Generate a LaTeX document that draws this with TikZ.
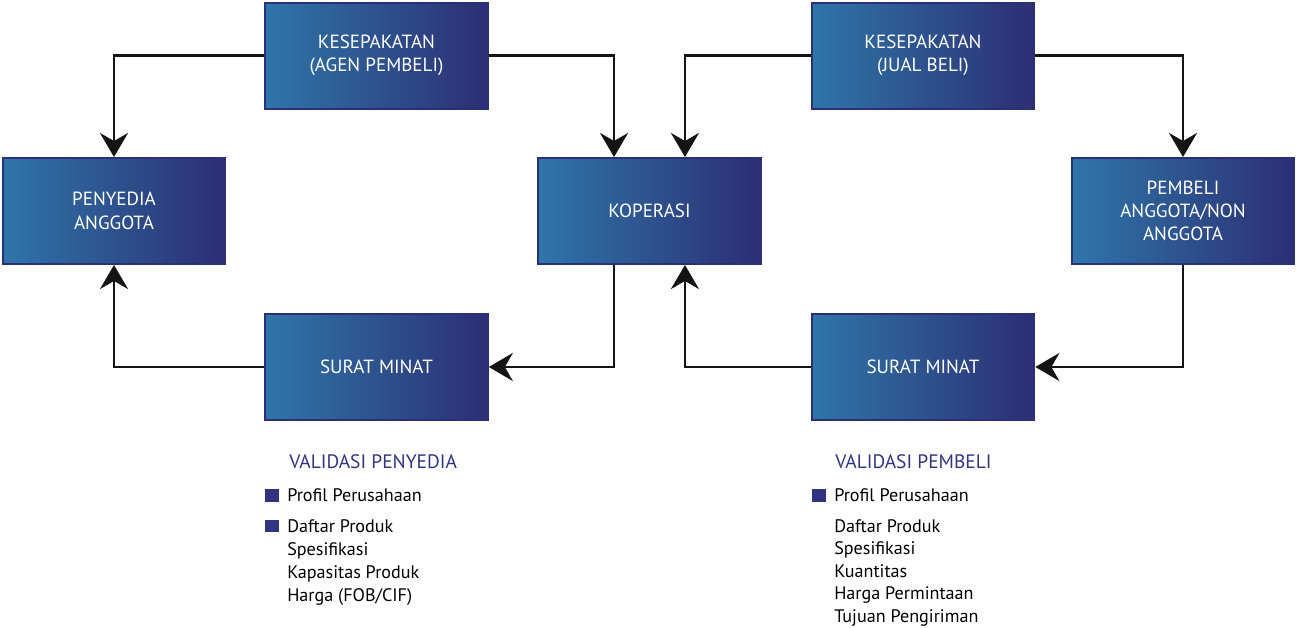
\documentclass[tikz,border=0pt]{standalone}
\usepackage{fontspec}
\setmainfont{PT Sans}
\usepackage{tikz}
\usetikzlibrary{shapes,arrows,arrows.meta,positioning}
\definecolor{birumuda}{RGB}{47,118,168}
\definecolor{birutua}{RGB}{44,46,115}
\definecolor{garistepi}{RGB}{43,47,121}
\definecolor{warnajudul}{RGB}{48,52,128}

\begin{document}
\begin{tikzpicture}[x=0.75pt, y=-0.75pt,
		kotak/.style={rectangle, draw=garistepi, line width=1.5pt, left color=birumuda, right color=birutua, minimum width=167pt, minimum height=79.5pt, align=center, text=white, font=\fontsize{14.3}{17.5}\selectfont},
		alur/.style={-{Stealth[length=18pt, width=21pt, inset=6pt]}, line width=2pt, draw=black!92},
		judul/.style={anchor=base west, inner sep=0pt, text=warnajudul, font=\fontsize{14.6}{17}\selectfont},
		isi/.style={anchor=base west, inner sep=0pt, font=\fontsize{13.6}{17}\selectfont},
		titik/.style={rectangle, fill=warnajudul, inner sep=0pt, minimum width=10.5pt, minimum height=9.5pt}]
				\useasboundingbox (0,0) rectangle (1296,628);
				% kotak-kotak
				\node[kotak] (agen) at (376.5,55.5) {KESEPAKATAN\\(AGEN PEMBELI)};
				\node[kotak] (penyedia) at (114,211) {PENYEDIA\\ANGGOTA};
				\node[kotak] (koperasi) at (649.5,211) {KOPERASI};
				\node[kotak] (suratkiri) at (376.5,367) {SURAT MINAT};
				\node[kotak] (jualbeli) at (923,55.5) {KESEPAKATAN\\(JUAL BELI)};
				\node[kotak] (pembeli) at (1183,211) {PEMBELI\\ANGGOTA/NON\\ANGGOTA};
				\node[kotak] (surakanan) at (923,367) {SURAT MINAT};
				% alur
				\draw[alur] (agen.west) -| (penyedia.north);
				\draw[alur] (agen.east) -| ([xshift=-26.6pt]koperasi.north);
				\draw[alur] ([xshift=-26.6pt]koperasi.south) |- (suratkiri.east);
				\draw[alur] (suratkiri.west) -| (penyedia.south);
				\draw[alur] (jualbeli.west) -| ([xshift=26.6pt]koperasi.north);
				\draw[alur] (jualbeli.east) -| (pembeli.north);
				\draw[alur] (pembeli.south) |- (surakanan.east);
				\draw[alur] (surakanan.west) -| ([xshift=26.6pt]koperasi.south);
				% validasi penyedia
				\node[judul] (vpenyedia) at (289,468) {VALIDASI PENYEDIA};
				\node[titik] (tp1) at (272,495.5) {};
				\node[isi] (ppenyedia) at (287,501.5) {Profil Perusahaan};
				\node[titik] (tp2) at (272,526) {};
				\foreach \teks [count=\i] in {Daftar Produk, Spesifikasi, Kapasitas Produk, {Harga (FOB/CIF)}}
					\node[isi] (lpenyedia\i) at (287,509+23*\i) {\teks};
				% validasi pembeli
				\node[judul] (vpembeli) at (835,468) {VALIDASI PEMBELI};
				\node[titik] (tb1) at (819,495.5) {};
				\node[isi] (ppembeli) at (834,501.5) {Profil Perusahaan};
				\foreach \teks [count=\i] in {Daftar Produk, Spesifikasi, Kuantitas, Harga Permintaan, Tujuan Pengiriman}
					\node[isi] (lpembeli\i) at (834,509.5+22.6*\i) {\teks};
				\end{tikzpicture}
\end{document}
